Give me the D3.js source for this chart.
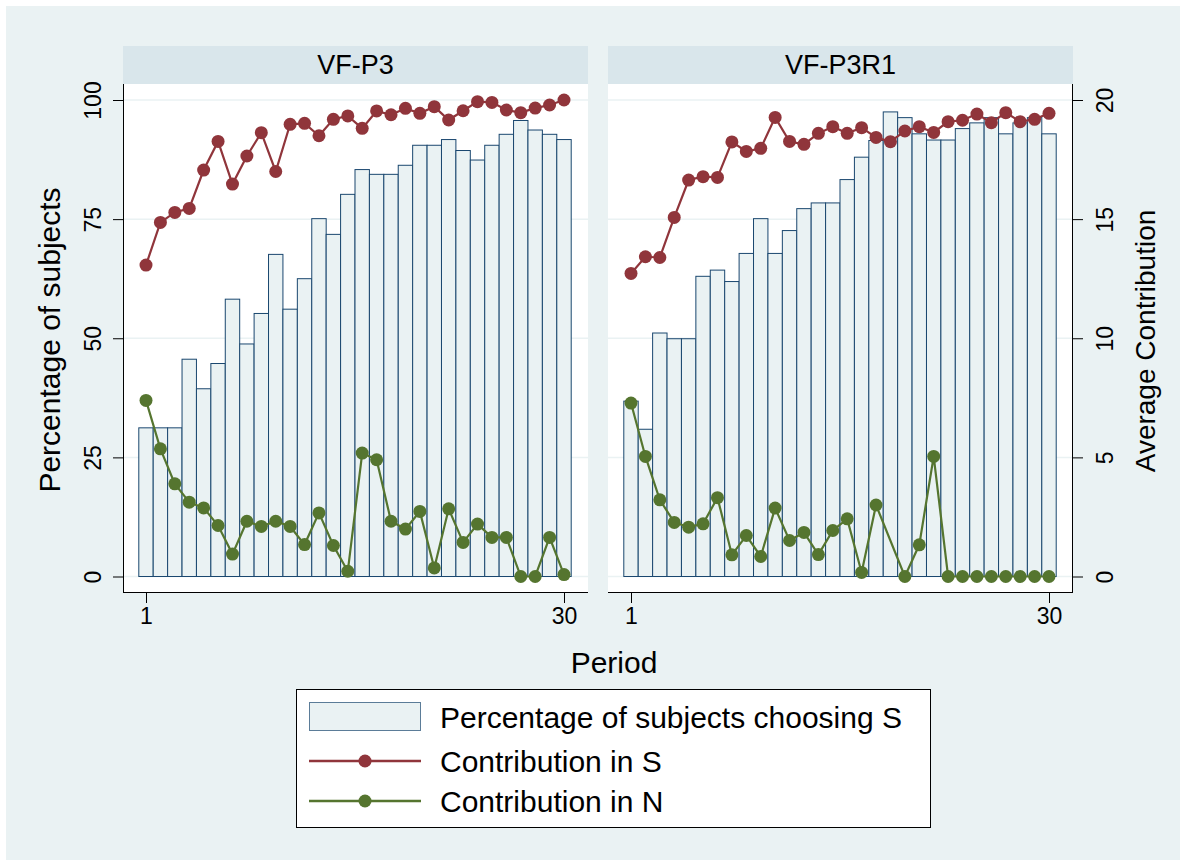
<!DOCTYPE html>
<html>
<head>
<meta charset="utf-8">
<script src="https://cdn.jsdelivr.net/npm/d3@7"></script>
<style>
body{margin:0;background:#fff;}
text{font-family:"Liberation Sans",Arial,sans-serif;fill:#000;}
</style>
</head>
<body>
<div id="chart"></div>
<script>
//values
var periods=[1,2,3,4,5,6,7,8,9,10,11,12,13,14,15,16,17,18,19,20,21,22,23,24,25,26,27,28,29,30];
var panelNames=["VF-P3","VF-P3R1"];
var xTicks=[1,30];
var pctTicks=[0,25,50,75,100];
var contTicks=[0,5,10,15,20];

var pctP3=[31.2,31.2,31.2,45.6,39.4,44.7,58.2,48.8,55.2,67.6,56.1,62.5,75.1,71.8,80.2,85.4,84.4,84.4,86.3,90.5,90.5,91.7,89.4,87.4,90.5,92.8,95.7,93.7,92.8,91.7];
var pctP3R1=[36.8,30.9,51.1,49.9,49.9,63.0,64.3,61.9,67.8,75.1,67.8,72.6,77.2,78.4,78.4,83.3,88.0,91.5,97.5,96.3,92.9,91.6,91.6,94.0,95.2,96.3,92.9,95.2,96.3,92.9];

var contSP3=[13.07,14.86,15.28,15.45,17.06,18.26,16.47,17.65,18.63,17.0,18.98,19.02,18.5,19.19,19.33,18.81,19.54,19.38,19.65,19.44,19.72,19.16,19.55,19.93,19.9,19.58,19.47,19.66,19.79,20.0];
var contSP3R1=[12.72,13.42,13.39,15.07,16.64,16.78,16.75,18.24,17.84,17.97,19.27,18.26,18.14,18.6,18.88,18.6,18.84,18.43,18.25,18.7,18.88,18.64,19.09,19.15,19.41,19.05,19.47,19.09,19.19,19.44];

var contNP3=[7.39,5.36,3.89,3.12,2.88,2.14,0.94,2.32,2.1,2.32,2.1,1.34,2.67,1.3,0.22,5.18,4.9,2.32,1.99,2.73,0.36,2.84,1.43,2.2,1.64,1.64,0,0,1.64,0.08];
var contNP3R1=[7.28,5.04,3.22,2.27,2.07,2.21,3.31,0.91,1.72,0.84,2.87,1.51,1.85,0.92,1.93,2.42,0.17,3.0,null,0,1.33,5.04,0,0,0,0,0,0,0,0];

var legendLabels=["Percentage of subjects choosing S","Contribution in S","Contribution in N"];

//colors
var bgCol="#eaf2f3",headCol="#d9e6eb",barFill="#eaf2f3",barLine="#1a476f",
	redCol="#90353b",greenCol="#55752f";

var width=1186,height=866;
var panelW=465,plotTop=84,plotBottom=592;
var panelX=[123,608];

var svg=d3.select("#chart")
	.append("svg")
	.attr("width",width)
	.attr("height",height);

//backdrop
svg.append("rect").attr("x",6).attr("y",6).attr("width",width-12).attr("height",height-12).attr("fill",bgCol);

var yPct=d3.scaleLinear().domain([0,100]).range([576.5,100]);
var yCont=d3.scaleLinear().domain([0,20]).range([576.5,100]);

var pctData=[pctP3,pctP3R1],sData=[contSP3,contSP3R1],nData=[contNP3,contNP3R1];

panelNames.forEach(function(name,i){
	var g=svg.append("g").attr("transform","translate("+panelX[i]+",0)");
	var x=d3.scaleLinear().domain([1,30]).range([23,441]);
	var bw=x(2)-x(1);

	//header strip
	g.append("rect").attr("x",0).attr("y",46).attr("width",panelW).attr("height",plotTop-46).attr("fill",headCol);
	g.append("text").attr("x",panelW/2).attr("y",74).attr("text-anchor","middle")
		.attr("font-size",27).text(name);

	//plot area
	g.append("rect").attr("x",0).attr("y",plotTop).attr("width",panelW).attr("height",plotBottom-plotTop).attr("fill","#fff");

	//grid
	g.selectAll(".grid").data(pctTicks).enter().append("line")
		.attr("x1",0).attr("x2",panelW)
		.attr("y1",function(d){return yPct(d);})
		.attr("y2",function(d){return yPct(d);})
		.attr("stroke",bgCol).attr("stroke-width",1.5);

	//bars
	g.selectAll(".bar").data(periods).enter().append("rect")
		.attr("x",function(d){return x(d)-bw/2;})
		.attr("y",function(d,j){return yPct(pctData[i][j]);})
		.attr("width",bw)
		.attr("height",function(d,j){return yPct(0)-yPct(pctData[i][j]);})
		.attr("fill",barFill).attr("stroke",barLine).attr("stroke-width",1);

	//lines with markers
	[[nData[i],greenCol],[sData[i],redCol]].forEach(function(s){
		var pts=periods.map(function(p,j){return {p:p,v:s[0][j]};})
			.filter(function(d){return d.v!==null;});
		var line=d3.line().x(function(d){return x(d.p);}).y(function(d){return yCont(d.v);});
		g.append("path").datum(pts).attr("d",line)
			.attr("fill","none").attr("stroke",s[1]).attr("stroke-width",2.2);
		g.selectAll(null).data(pts).enter().append("circle")
			.attr("cx",function(d){return x(d.p);})
			.attr("cy",function(d){return yCont(d.v);})
			.attr("r",6.5).attr("fill",s[1]);
	});

	//x axis
	var xa=g.append("g").attr("transform","translate(0,"+plotBottom+")")
		.call(d3.axisBottom(x).tickValues(xTicks).tickSize(11).tickPadding(5).tickFormat(d3.format("d")));
	xa.select(".domain").attr("d","M0,0.5H"+panelW).attr("stroke","#000");
	xa.selectAll("text").attr("font-size",23).attr("font-family","Liberation Sans, Arial").attr("fill","#000");

	//y axes
	if(i==0){
		var ya=g.append("g").call(d3.axisLeft(yPct).tickValues(pctTicks).tickSize(10));
		ya.select(".domain").attr("d","M0.5,"+plotTop+"V"+plotBottom);
		ya.selectAll("text").attr("x",0).attr("dy",0).attr("text-anchor","middle")
			.attr("transform","translate(-22,0) rotate(-90)")
			.attr("font-size",23).attr("font-family","Liberation Sans, Arial");
	}else{
		var yb=g.append("g").attr("transform","translate("+panelW+",0)")
			.call(d3.axisRight(yCont).tickValues(contTicks).tickSize(10));
		yb.select(".domain").attr("d","M-0.5,"+plotTop+"V"+plotBottom);
		yb.selectAll("text").attr("x",0).attr("dy",0).attr("text-anchor","middle")
			.attr("transform","translate(40,0) rotate(-90)")
			.attr("font-size",23).attr("font-family","Liberation Sans, Arial");
	}
});

//axis titles
svg.append("text").attr("transform","translate(60,340) rotate(-90)").attr("text-anchor","middle")
	.attr("font-size",30).text("Percentage of subjects");
svg.append("text").attr("transform","translate(1155,341) rotate(-90)").attr("text-anchor","middle")
	.attr("font-size",28).text("Average Contribution");
svg.append("text").attr("x",614).attr("y",673).attr("text-anchor","middle")
	.attr("font-size",30).text("Period");

//legend
var lg=svg.append("g");
lg.append("rect").attr("x",296.5).attr("y",689.5).attr("width",634).attr("height",138)
	.attr("fill","#fff").attr("stroke","#000").attr("stroke-width",1);
var rowY=[717,761,801];
lg.append("rect").attr("x",309.5).attr("y",702.5).attr("width",111).attr("height",28)
	.attr("fill",barFill).attr("stroke",barLine).attr("stroke-opacity",0.7);
[[redCol,rowY[1]],[greenCol,rowY[2]]].forEach(function(s){
	lg.append("line").attr("x1",309).attr("x2",421).attr("y1",s[1]).attr("y2",s[1])
		.attr("stroke",s[0]).attr("stroke-width",2.5);
	lg.append("circle").attr("cx",365).attr("cy",s[1]).attr("r",6.5).attr("fill",s[0]);
});
lg.selectAll(".lab").data(legendLabels).enter().append("text")
	.attr("x",440).attr("y",function(d,j){return rowY[j]+11;})
	.attr("font-size",30).text(function(d){return d;});
</script>
</body>
</html>
